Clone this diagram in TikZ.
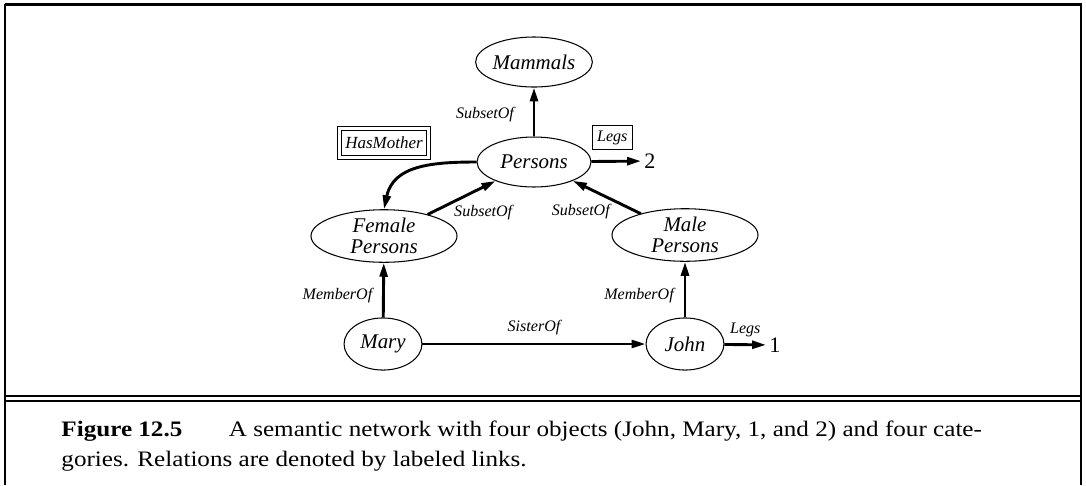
\documentclass[tikz,border=0pt]{standalone}
\usepackage{fontspec}
\setmainfont{Liberation Serif}
\usetikzlibrary{arrows.meta,shapes.geometric,positioning}

\begin{document}
\begin{tikzpicture}[
  x=0.43pt, y=-0.43pt,
  cat/.style={draw, ellipse, line width=0.45pt, inner sep=0pt, align=center,
    font=\fontsize{9}{8.8}\selectfont\itshape, minimum width=49pt, minimum height=21.5pt},
  wide/.style={cat, minimum width=62.8pt, minimum height=22.6pt},
  obj/.style={cat, minimum width=33.5pt, minimum height=22.4pt},
  num/.style={inner sep=1.2pt, font=\fontsize{9.5}{10}\selectfont},
  lab/.style={font=\fontsize{6.9}{7}\selectfont\itshape, inner sep=1.5pt},
  box/.style={lab, draw, line width=0.45pt, inner xsep=2pt, inner ysep=2pt},
  dbox/.style={lab, font=\fontsize{7.3}{8}\selectfont\itshape, draw, double, line width=0.4pt,
    double distance=1.3pt, inner xsep=2.6pt, inner ysep=3.6pt},
  arr/.style={-{Triangle[length=6pt,width=3.4pt]}, line width=1.25pt},
  frame/.style={line width=0.9pt}
]
  \useasboundingbox (0,0) rectangle (1086,485);

  % page frame
  \draw[frame, line width=1.3pt] (4.6,4.2) -- (1082,4.2);
  \draw[frame] (5.3,3.6) -- (5.3,485);
  \draw[frame] (1081.3,3.6) -- (1081.3,485);
  \draw[frame] (5.3,396) -- (1081.3,396);
  \draw[frame] (5.3,401) -- (1081.3,401);

  % categories and objects
  \node[cat] (mammals) at (534,62) {Mammals};
  \node[cat] (persons) at (534,162) {Persons};
  \node[wide] (female) at (384,236) {Female\\Persons};
  \node[wide] (male) at (685,235) {Male\\Persons};
  \node[obj] (mary) at (383,344) {Mary};
  \node[obj] (john) at (685,344) {John};
  \node[num, anchor=west] (two) at (641,161) {2};
  \node[num, anchor=west] (one) at (766,345) {1};

  \node[dbox] (hasmother) at (384,143) {HasMother};

  \draw[arr] (persons) -- node[lab, left=6.5pt, pos=.45]{SubsetOf} (mammals);
  \draw[arr] (persons) -- node[box, above=5pt, xshift=-1.7pt]{Legs} (two);
  \draw[arr] (persons.west) to[out=180, in=78, looseness=1.1] (female.north);
  \draw[arr] (female) -- node[lab, below right=1pt and -5.3pt]{SubsetOf} (persons);
  \draw[arr] (male) -- node[lab, below left=1pt and -3.4pt]{SubsetOf} (persons);
  \draw[arr] (mary) -- node[lab, left=2.7pt, pos=.4]{MemberOf} (female);
  \draw[arr] (john) -- node[lab, left=2.7pt, pos=.4]{MemberOf} (male);
  \draw[arr] (mary) -- node[lab, above=2pt]{SisterOf} (john);
  \draw[arr] (john) -- node[lab, above=1pt]{Legs} (one);

  % caption
  \node[anchor=base west, inner sep=0pt] (caption) at (61,436)
    {\scalebox{1}[0.88]{\fontsize{10.8}{15.1}\selectfont\begin{tabular}[t]{@{}l@{}}
     \textbf{Figure 12.5}\hspace{20pt}A semantic network with four objects (John, Mary, 1, and 2) and four cate-\\
     gories. Relations are denoted by labeled links.\end{tabular}}};
\end{tikzpicture}
\end{document}
